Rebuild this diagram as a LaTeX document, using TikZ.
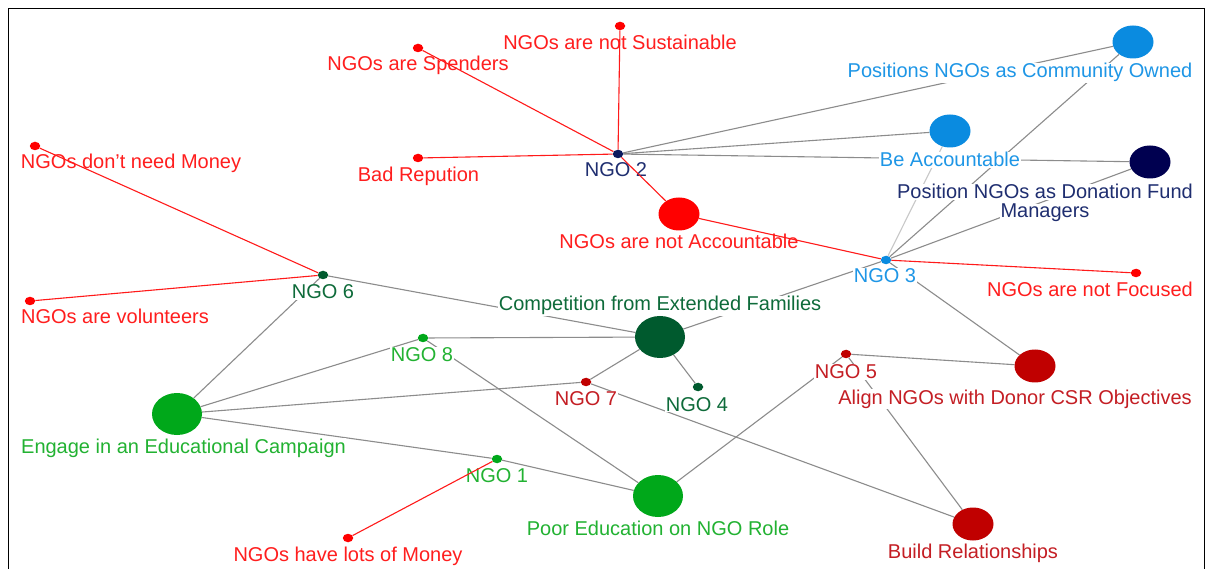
\documentclass[tikz,border=0pt]{standalone}
\usepackage{fontspec}
\setmainfont{Liberation Sans}
\usetikzlibrary{shapes.geometric}
\definecolor{cRed}{HTML}{FF0000}
\definecolor{tRed}{HTML}{FF1E1E}
\definecolor{cNavy}{HTML}{0B1A5E}
\definecolor{cNavyB}{HTML}{000050}
\definecolor{tNavy}{HTML}{1F2E70}
\definecolor{cBlue}{HTML}{0A8BE0}
\definecolor{tBlue}{HTML}{1E96E6}
\definecolor{cDGreen}{HTML}{005A2E}
\definecolor{tDGreen}{HTML}{0E6B3A}
\definecolor{cGreen}{HTML}{00A81A}
\definecolor{tGreen}{HTML}{22B232}
\definecolor{cDRed}{HTML}{C00000}
\definecolor{tDRed}{HTML}{C41E24}
\definecolor{eGray}{HTML}{8C8C8C}
\definecolor{eLight}{HTML}{C8C8C8}
\definecolor{eRed}{HTML}{FF1A1A}
\pgfdeclarelayer{bg}
\pgfdeclarelayer{gedges}
\pgfdeclarelayer{lbls}
\pgfdeclarelayer{redges}
\pgfsetlayers{bg,gedges,lbls,redges,main}
\begin{document}
\begin{tikzpicture}[x=1pt,y=-1pt,
  sdot/.style={ellipse, inner sep=0pt, minimum width=10.5pt, minimum height=8.5pt, fill=#1},
  bnode/.style={ellipse, inner sep=0pt, minimum width=41pt, minimum height=33pt, fill=#1},
  gnode/.style={ellipse, inner sep=0pt, minimum width=50pt, minimum height=42pt, fill=#1},
  lbl/.style={anchor=base, fill=white, inner sep=0.6pt, text=#1, font=\fontsize{20}{20}\selectfont},
  gedge/.style={draw=eGray, line width=1.1pt},
  ledge/.style={draw=eLight, line width=1.1pt},
  redge/.style={draw=eRed, line width=1.1pt}]
\useasboundingbox (0,0) rectangle (1208,569);
\begin{pgfonlayer}{bg}
\fill[white] (0,0) rectangle (1208,569);
\end{pgfonlayer}
\draw[line width=1.6pt] (8.5,8.5) rectangle (1204.5,590);
% nodes
\node[sdot=cRed] (sust) at (620,26) {};
\node[sdot=cRed] (spend) at (418,48) {};
\node[sdot=cRed] (bad) at (418,158) {};
\node[sdot=cRed] (dnm) at (35,146) {};
\node[sdot=cNavy] (n2) at (618,154) {};
\node[bnode=cRed] (nacc) at (679,214) {};
\node[bnode=cBlue] (co) at (1133,42) {};
\node[bnode=cBlue] (ba) at (950,131) {};
\node[bnode=cNavyB] (don) at (1150,162) {};
\node[sdot=cBlue] (n3) at (886,260) {};
\node[sdot=cRed] (foc) at (1136,273) {};
\node[sdot=cDGreen] (n6) at (323,275) {};
\node[sdot=cRed] (vol) at (30,301) {};
\node[gnode=cDGreen] (comp) at (660,337) {};
\node[sdot=cGreen] (n8) at (423,338) {};
\node[sdot=cDRed] (n7) at (586,382) {};
\node[sdot=cDGreen] (n4) at (698,387) {};
\node[sdot=cDRed] (n5) at (846,354) {};
\node[bnode=cDRed] (csr) at (1035,366) {};
\node[gnode=cGreen] (eng) at (177,414) {};
\node[sdot=cGreen] (n1) at (497,459) {};
\node[gnode=cGreen] (poor) at (658,496) {};
\node[bnode=cDRed] (build) at (973,524) {};
\node[sdot=cRed] (lots) at (348,538) {};
% labels
\begin{pgfonlayer}{lbls}
\node[lbl=tRed] (lSust) at (620,50) {NGOs are not Sustainable};
\node[lbl=tRed] (lSpend) at (418,71) {NGOs are Spenders};
\node[lbl=tRed] (lBad) at (418.5,182) {Bad Repution};
\node[lbl=tRed] (lDnm) at (131,169) {NGOs don’t need Money};
\node[lbl=tNavy] (lN2) at (616,177) {NGO 2};
\node[lbl=tRed] (lNacc) at (679,249) {NGOs are not Accountable};
\node[lbl=tBlue] (lCo) at (1020,78) {Positions NGOs as Community Owned};
\node[lbl=tBlue] (lBa) at (950,167) {Be Accountable};
\node[lbl=tNavy] (lDonA) at (1045,199) {Position NGOs as Donation Fund};
\node[lbl=tNavy] (lDonB) at (1045,218) {Managers};
\node[lbl=tBlue] (lN3) at (885,283) {NGO 3};
\node[lbl=tRed] (lFoc) at (1090,297) {NGOs are not Focused};
\node[lbl=tDGreen] (lN6) at (323,299) {NGO 6};
\node[lbl=tRed] (lVol) at (115,324) {NGOs are volunteers};
\node[lbl=tDGreen] (lComp) at (660,311) {Competition from Extended Families};
\node[lbl=tGreen] (lN8) at (422,362) {NGO 8};
\node[lbl=tDRed] (lN7) at (586,406) {NGO 7};
\node[lbl=tDGreen] (lN4) at (697,411) {NGO 4};
\node[lbl=tGreen] (lN1) at (497,482) {NGO 1};
\node[lbl=tGreen] (lPoor) at (658,535) {Poor Education on NGO Role};
\node[lbl=tRed] (lLots) at (348,561) {NGOs have lots of Money};
\node[lbl=tDRed] (lN5) at (846,379) {NGO 5};
\node[lbl=tDRed] (lCsr) at (1015,404) {Align NGOs with Donor CSR Objectives};
\node[lbl=tDRed] (lBuild) at (973,558) {Build Relationships};
\node[lbl=tGreen] (lEng) at (183.5,453) {Engage in an Educational Campaign};
\end{pgfonlayer}
% gray edges
\begin{pgfonlayer}{gedges}
\draw[gedge] (n2) -- (co);
\draw[gedge] (n2) -- (ba);
\draw[gedge] (n2) -- (don);
\draw[gedge] (n3) -- (co);
\draw[ledge] (n3) -- (ba);
\draw[gedge] (n3) -- (don);
\draw[gedge] (n3) -- (comp);
\draw[gedge] (n3) -- (csr);
\draw[gedge] (n6) -- (comp);
\draw[gedge] (n6) -- (eng);
\draw[gedge] (n8) -- (eng);
\draw[gedge] (n8) -- (comp);
\draw[gedge] (n8) -- (poor);
\draw[gedge] (n7) -- (eng);
\draw[gedge] (n7) -- (comp);
\draw[gedge] (n7) -- (build);
\draw[gedge] (n4) -- (comp);
\draw[gedge] (n1) -- (eng);
\draw[gedge] (n1) -- (poor);
\draw[gedge] (n5) -- (poor);
\draw[gedge] (n5) -- (csr);
\draw[gedge] (n5) -- (build);
\end{pgfonlayer}
% red edges
\begin{pgfonlayer}{redges}
\draw[redge] (n2) -- (sust);
\draw[redge] (n2) -- (spend);
\draw[redge] (n2) -- (bad);
\draw[redge] (n2) -- (nacc);
\draw[redge] (nacc) -- (n3);
\draw[redge] (n3) -- (foc);
\draw[redge] (n6) -- (dnm);
\draw[redge] (n6) -- (vol);
\draw[redge] (n1) -- (lots);
\end{pgfonlayer}
\end{tikzpicture}
\end{document}
